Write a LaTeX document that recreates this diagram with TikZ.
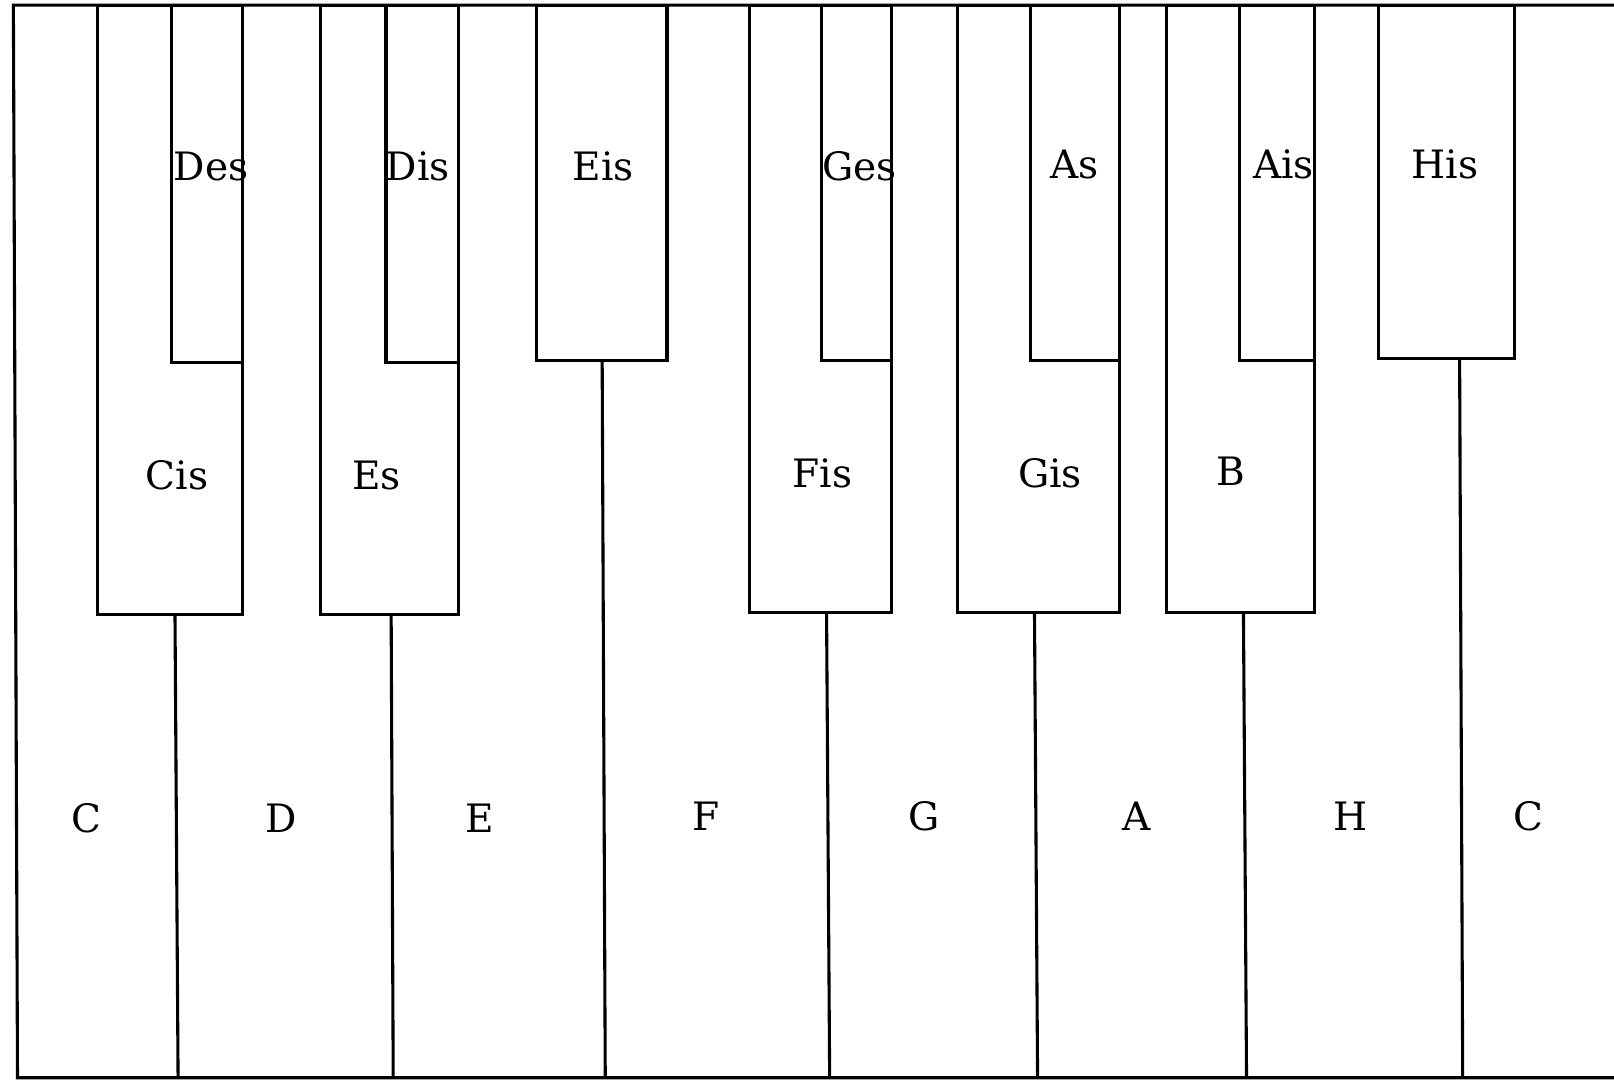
\documentclass[tikz,border=0pt]{standalone}
\usepackage{fontspec}
\setmainfont{DejaVu Serif}
\begin{document}
\begin{tikzpicture}[x=0.5pt,y=-0.5pt,
  keyline/.style={line width=1.5pt,line join=miter},
  lbl/.style={font=\fontsize{19}{22}\selectfont,inner sep=0pt,anchor=center}]
\useasboundingbox (0,0) rectangle (1568,1050);
\fill[white] (0,0) rectangle (1568,1050);
% frame
\draw[keyline] (1568,5) -- (13,5) -- (17,1047) -- (1568,1047);
% long black keys (lower level)
\draw[keyline] (95,5) rectangle (236,597);
\draw[keyline] (311,5) rectangle (445,597);
\draw[keyline] (728,5) rectangle (866,595);
\draw[keyline] (930,5) rectangle (1088,595);
\draw[keyline] (1133,5) rectangle (1277,595);
% short black keys (upper level)
\draw[keyline] (167,5) rectangle (236,352);
\draw[keyline] (375,5) rectangle (445,352);
\draw[keyline] (521,5) rectangle (648,350);
\draw[keyline] (798,5) rectangle (866,350);
\draw[keyline] (1001,5) rectangle (1088,350);
\draw[keyline] (1204,5) rectangle (1277,350);
\draw[keyline] (1339,5) rectangle (1471,348);
% white key dividers
\draw[keyline] (170,597) -- (173,1047);
\draw[keyline] (380,597) -- (382,1047);
\draw[keyline] (585,350) -- (588,1047);
\draw[keyline] (803,595) -- (806,1047);
\draw[keyline] (1005,595) -- (1008,1047);
\draw[keyline] (1208,595) -- (1211,1047);
\draw[keyline] (1418,348) -- (1421,1047);
% upper labels
\node[lbl] (des) at (205,162) {Des};
\node[lbl] (dis) at (406,162) {Dis};
\node[lbl] (eis) at (586,162) {Eis};
\node[lbl] (ges) at (835,162) {Ges};
\node[lbl] (as)  at (1044,160) {As};
\node[lbl] (ais) at (1247,160) {Ais};
\node[lbl] (his) at (1404,160) {His};
% middle labels
\node[lbl] (cis) at (172,462) {Cis};
\node[lbl] (es)  at (366,462) {Es};
\node[lbl] (fis) at (799,460) {Fis};
\node[lbl] (gis) at (1020,460) {Gis};
\node[lbl] (b)   at (1196,458) {B};
% lower labels
\node[lbl] (c1) at (84,795) {C};
\node[lbl] (d)  at (273,795) {D};
\node[lbl] (e)  at (466,795) {E};
\node[lbl] (f)  at (686,793) {F};
\node[lbl] (g)  at (898,793) {G};
\node[lbl] (a)  at (1104,793) {A};
\node[lbl] (h)  at (1312,793) {H};
\node[lbl] (c2) at (1485,793) {C};
\end{tikzpicture}
\end{document}
